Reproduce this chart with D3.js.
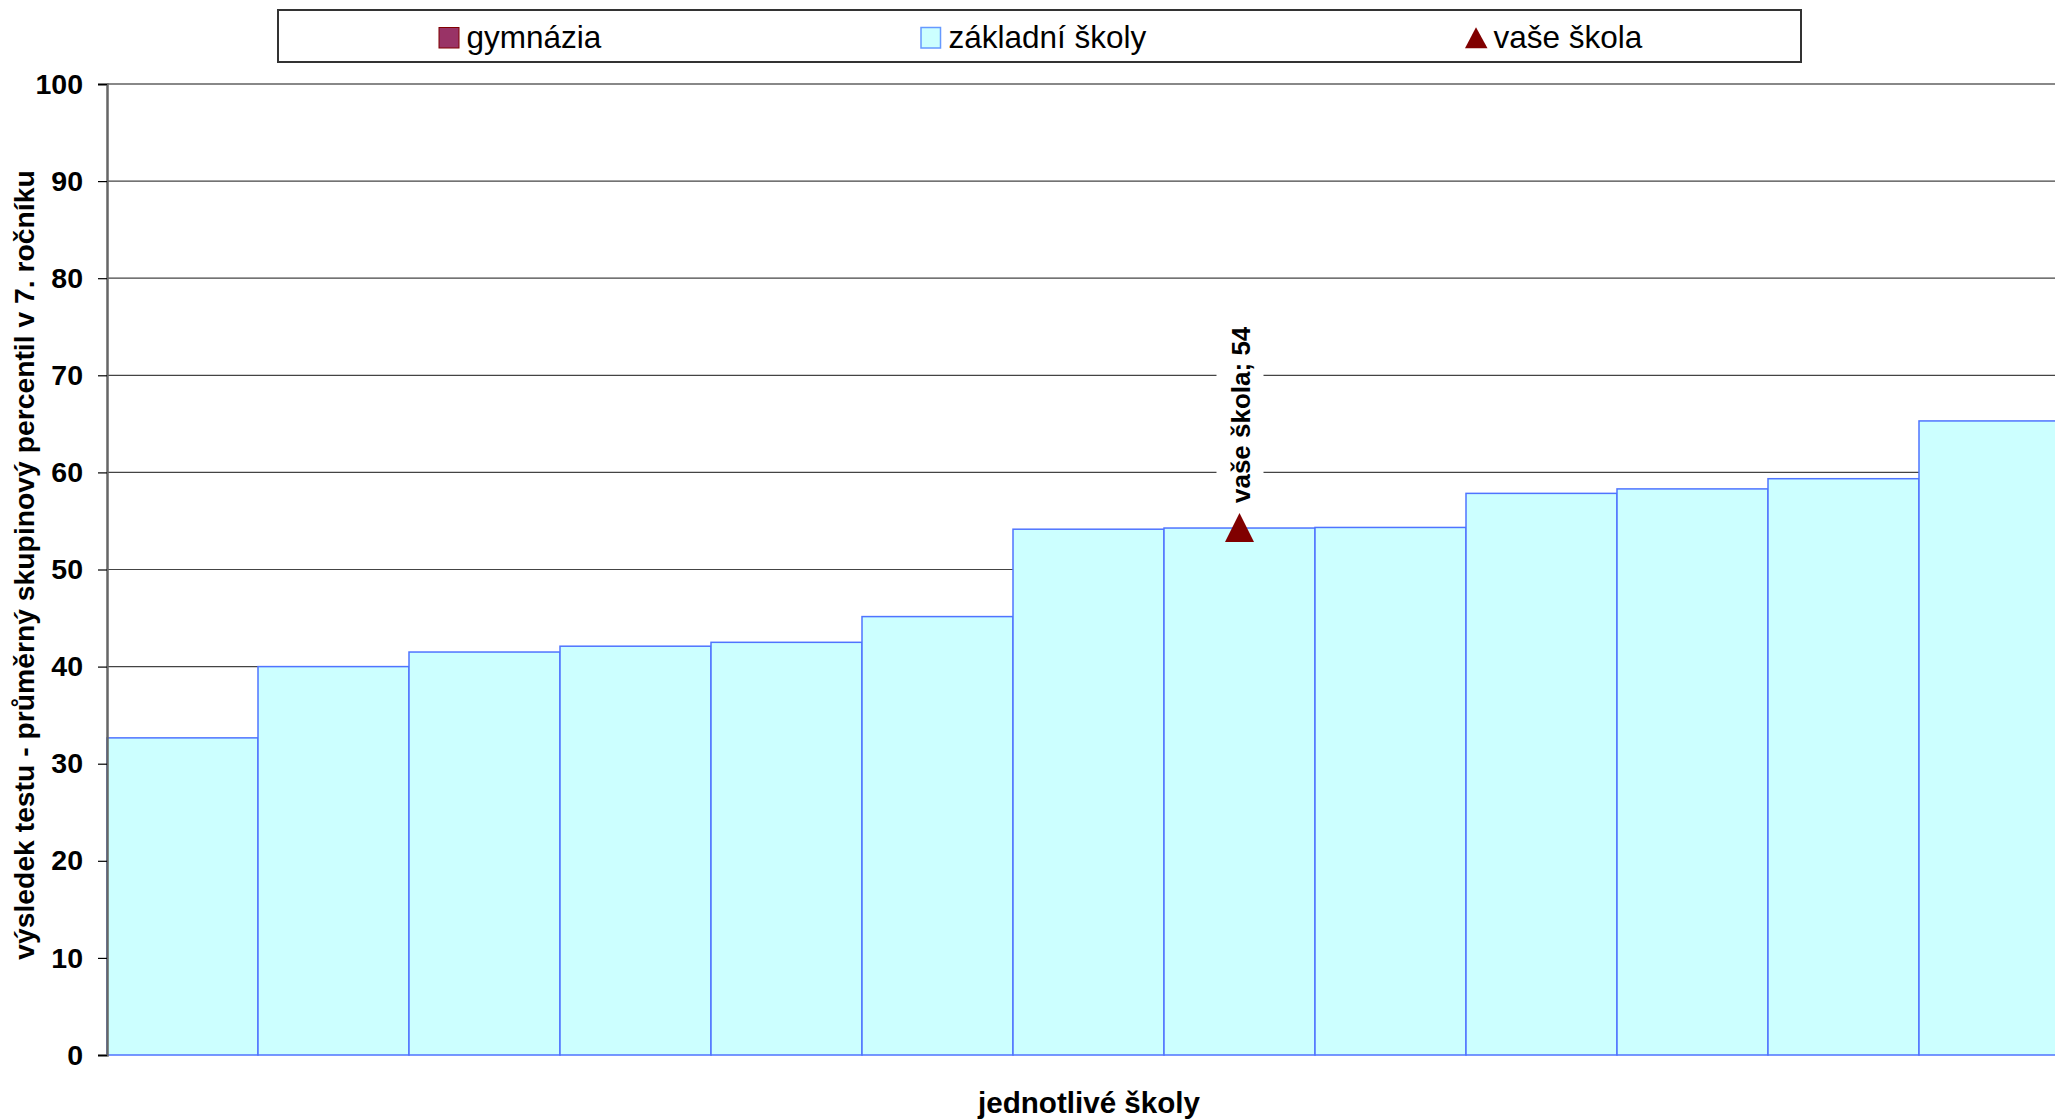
<!DOCTYPE html>
<html>
<head>
<meta charset="utf-8">
<script src="https://cdn.jsdelivr.net/npm/d3@7"></script>
<style>
  body { margin: 0; background: #fff; overflow: hidden; }
  svg { display: block; font-family: Arial, "Liberation Sans", sans-serif; }
</style>
</head>
<body>
<svg id="chart" width="2055" height="1120"></svg>
<script>
// data
const schools = ["1","2","3","4","5","6","7","8","9","10","11","12","13"];
const results = [32.66, 40.0, 41.5, 42.1, 42.5, 45.15, 54.15, 54.27, 54.33, 57.84, 58.3, 59.35, 65.3];
const yourSchool = "8";
const yourValue = 54.27;
const yTicks = [0, 10, 20, 30, 40, 50, 60, 70, 80, 90, 100];
const legendItems = ["gymnázia", "základní školy", "vaše škola"];

const svg = d3.select("#chart");

const x = d3.scaleBand().domain(schools).range([107, 2070]).padding(0);
const y = d3.scaleLinear().domain([0, 100]).range([1055, 84]);

// gridlines
svg.append("g")
  .selectAll("line")
  .data(yTicks.filter(d => d > 0))
  .enter().append("line")
  .attr("x1", 107).attr("x2", 2070)
  .attr("y1", d => y(d)).attr("y2", d => y(d))
  .attr("stroke", d => d === 100 ? "#888" : "#444")
  .attr("stroke-width", d => d === 100 ? 2 : 1.2);

// bars
svg.append("g")
  .selectAll("rect")
  .data(results)
  .enter().append("rect")
  .attr("x", (d, i) => x(schools[i]))
  .attr("y", d => y(d))
  .attr("width", x.bandwidth())
  .attr("height", d => y(0) - y(d))
  .attr("fill", "#ccffff")
  .attr("stroke", "#4f74ff")
  .attr("stroke-width", 1.5);

// y axis
const yAxis = d3.axisLeft(y).tickValues(yTicks).tickSize(9).tickPadding(15);
const ga = svg.append("g").attr("transform", "translate(107,0)").call(yAxis);
ga.select(".domain").attr("stroke", "#666").attr("stroke-width", 2.5);
ga.selectAll(".tick line").attr("stroke", "#000").attr("stroke-width", 1.2);
ga.selectAll(".tick text")
  .attr("font-size", "28.5px")
  .attr("font-weight", "bold")
  .attr("fill", "#000");

// your school marker
const mx = x(yourSchool) + x.bandwidth() / 2;
const my = y(yourValue);
svg.append("path")
  .attr("d", `M${mx},${my - 15} L${mx + 14.5},${my + 14} L${mx - 14.5},${my + 14} Z`)
  .attr("fill", "#800000");

// data label with white background
svg.append("rect")
  .attr("x", mx - 23).attr("y", 318)
  .attr("width", 47).attr("height", 192)
  .attr("fill", "#fff");
svg.append("text")
  .attr("transform", `translate(${mx + 10},${my - 25}) rotate(-90)`)
  .attr("font-size", "26px")
  .attr("font-weight", "bold")
  .text(`vaše škola; ${Math.round(yourValue)}`);

// axis titles
svg.append("text")
  .attr("transform", "translate(34,565) rotate(-90)")
  .attr("text-anchor", "middle")
  .attr("font-size", "28.3px")
  .attr("font-weight", "bold")
  .text("výsledek testu - průměrný skupinový percentil v 7. ročníku");

svg.append("text")
  .attr("x", 1089).attr("y", 1113)
  .attr("text-anchor", "middle")
  .attr("font-size", "29.6px")
  .attr("font-weight", "bold")
  .text("jednotlivé školy");

// legend
const lg = svg.append("g");
lg.append("rect")
  .attr("x", 278).attr("y", 10)
  .attr("width", 1523).attr("height", 52)
  .attr("fill", "#fff")
  .attr("stroke", "#333")
  .attr("stroke-width", 2);

const legendX = [439, 921, 1465];
legendItems.forEach((name, i) => {
  const lx = legendX[i];
  if (i === 0) {
    lg.append("rect").attr("x", lx).attr("y", 27.5).attr("width", 20).attr("height", 20.5)
      .attr("fill", "#993366").attr("stroke", "#800000").attr("stroke-width", 1);
  } else if (i === 1) {
    lg.append("rect").attr("x", lx).attr("y", 27.5).attr("width", 19.5).attr("height", 20.5)
      .attr("fill", "#ccffff").attr("stroke", "#6699ff").attr("stroke-width", 1.5);
  } else {
    lg.append("path")
      .attr("d", `M${lx + 11},27.3 L${lx + 22.5},48.3 L${lx},48.3 Z`)
      .attr("fill", "#800000");
  }
  lg.append("text")
    .attr("x", lx + (i === 2 ? 28.5 : 27.5)).attr("y", 47.5)
    .attr("font-size", "31.5px")
    .attr("fill", "#000")
    .text(name);
});
</script>
</body>
</html>
